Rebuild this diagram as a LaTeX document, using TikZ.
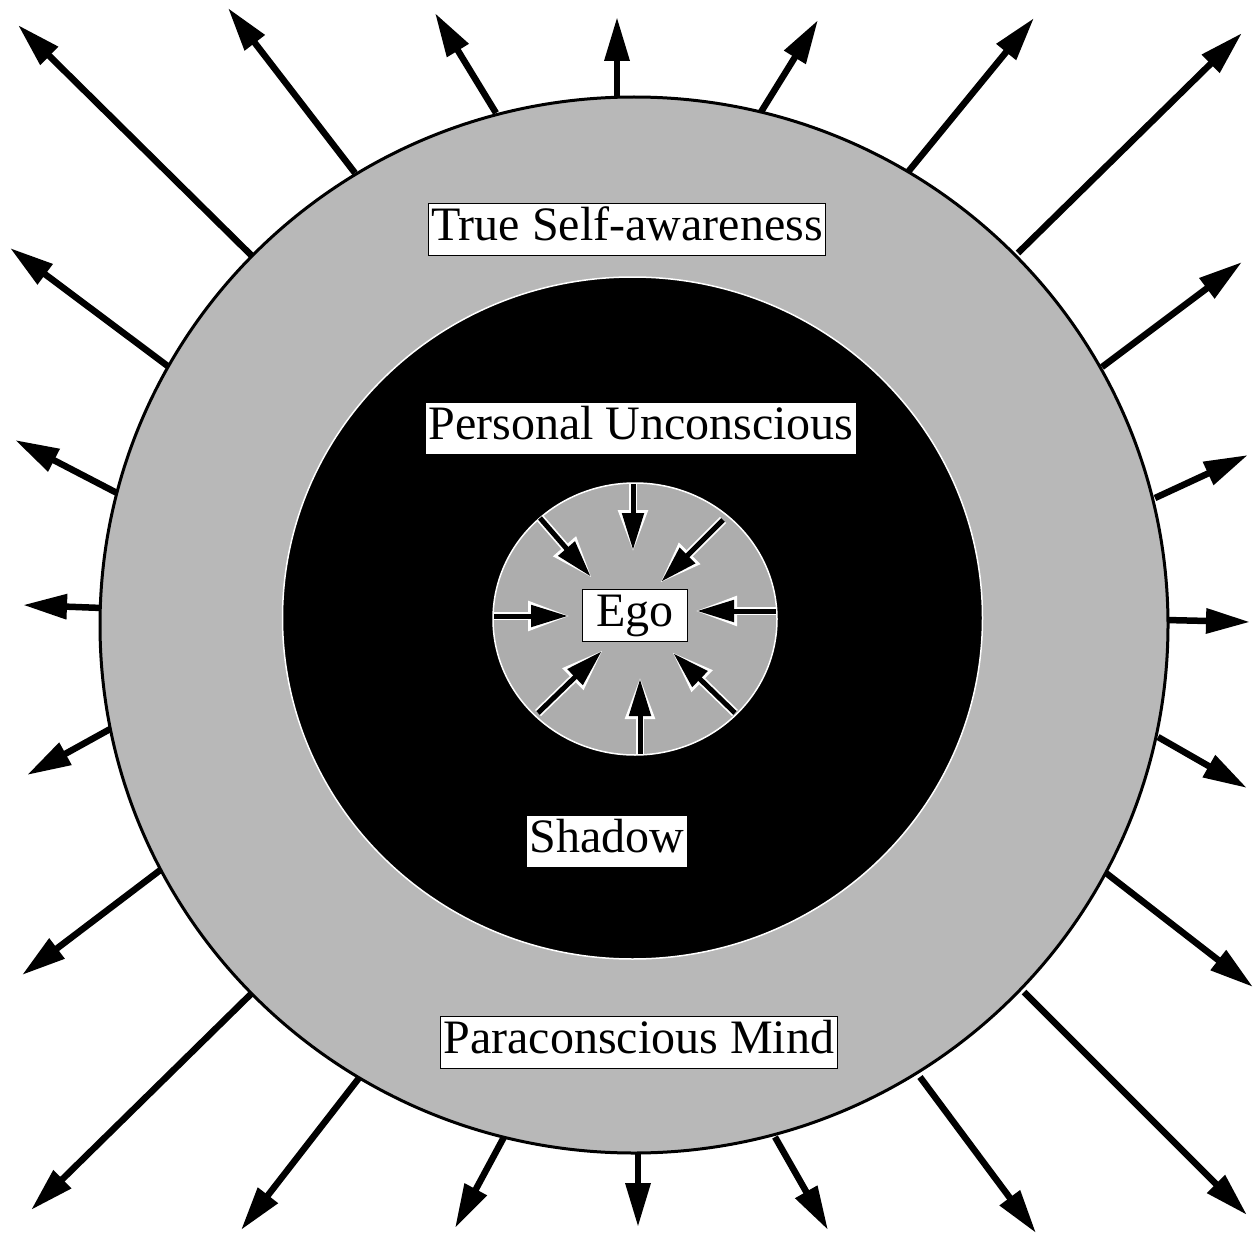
\documentclass[tikz,border=0pt]{standalone}
\usepackage{fontspec}
\setmainfont{Liberation Serif}
\usetikzlibrary{arrows.meta}
\definecolor{ringgray}{gray}{0.72}
\definecolor{egogray}{gray}{0.68}
\tikzset{
  outarrow/.style={line width=6.5pt, -{Triangle[length=44pt,width=24pt]}},
  inarrowbg/.style={white, line width=8.5pt, -{Triangle[length=42pt,width=28pt]}},
  inarrow/.style={black, line width=5pt, shorten >=2pt, -{Triangle[length=37pt,width=21pt]}},
  label/.style={fill=white, draw=black, line width=0.8pt, font=\fontsize{48}{56}\selectfont,
    inner xsep=3pt, inner ysep=3.5pt, text height=34pt, text depth=11pt}
}
\begin{document}
\begin{tikzpicture}[x=1pt,y=-1pt]
\path[use as bounding box, fill=white] (0,0) rectangle (1259,1244);
% outer arrows
\foreach \bx/\by/\tx/\ty [count=\i] in {
  253/257/18/25, 355/173/228/8, 496/113/435/13, 617/99/617/17,
  761/112/818/20, 908/172/1034/18, 1018/253/1242/33, 1102/367/1242/262,
  169/367/10/248, 117/493/15/440, 102/608/23/605, 112/728/27/775,
  1155/498/1248/455, 1166/620/1250/622, 1158/737/1247/788,
  163/868/22/975, 253/992/31/1210, 359/1078/241/1230, 504/1137/455/1228,
  638/1151/638/1227, 775/1137/828/1230, 920/1077/1036/1233, 1024/992/1247/1215,
  1106/873/1253/987}{
  \coordinate (ob\i) at (\bx,\by);
  \coordinate (ot\i) at (\tx,\ty);
  \draw[outarrow] (ob\i) -- (ot\i);
}
% rings
\coordinate (c0) at (634,625);
\draw[fill=ringgray, draw=black, line width=3pt] (c0) ellipse [x radius=534pt, y radius=528pt];
\coordinate (c1) at (632.5,618);
\draw[fill=black, draw=white, line width=1.5pt] (c1) ellipse [x radius=350pt, y radius=341pt];
\coordinate (c2) at (635,619);
\draw[fill=egogray, draw=white, line width=1.5pt] (c2) ellipse [x radius=142pt, y radius=136pt];
% inner arrows
\foreach \bx/\by/\tx/\ty [count=\i] in {
  633/484/633/552, 640/754/640/677, 494/616/570/616, 776/611/695/611,
  540/518/592/578, 723/520/660/583, 538/713/603/650, 735/713/672/652}{
  \coordinate (ib\i) at (\bx,\by);
  \coordinate (it\i) at (\tx,\ty);
  \draw[inarrowbg] (ib\i) -- (it\i);
}
\foreach \i in {1,...,8}{
  \draw[inarrow] (ib\i) -- (it\i);
}
% labels
\node[label] (tsa) at (627,229) {True Self-awareness};
\node[label] (pu) at (641,428) {Personal Unconscious};
\node[label, inner xsep=14pt] (ego) at (635,615) {Ego};
\node[label] (sh) at (607,841) {Shadow};
\node[label] (pm) at (639,1042) {Paraconscious Mind};
\end{tikzpicture}
\end{document}
